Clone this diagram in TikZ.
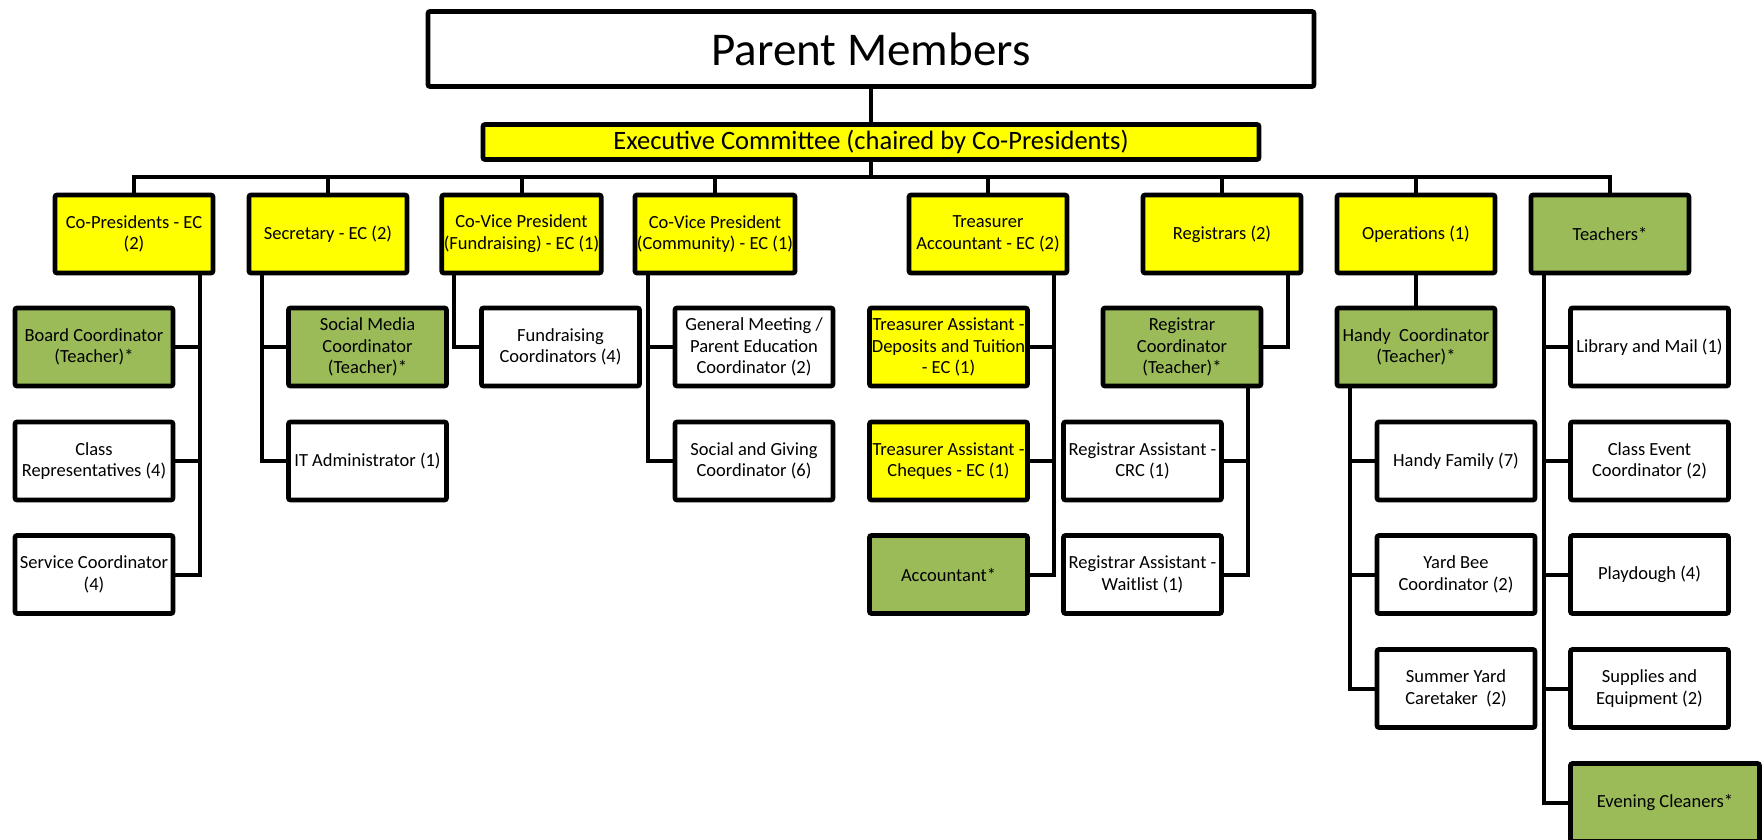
\documentclass[tikz,border=0pt]{standalone}
\usepackage{fontspec}
\setmainfont{Carlito}
\definecolor{OCyellow}{HTML}{FFFF00}
\definecolor{OCgreen}{HTML}{9BBB59}
\tikzset{OCbox/.style={draw,line width=2.35pt,rounded corners=1pt,align=center,inner sep=1pt,
           minimum width=79pt,minimum height=39pt,font=\fontsize{9.25}{10.85}\selectfont},
         OCyel/.style={OCbox,fill=OCyellow},
         OCgrn/.style={OCbox,fill=OCgreen},
         OCwht/.style={OCbox,fill=white},
         OClink/.style={line width=2pt}}

\begin{document}
\begin{tikzpicture}[x=0.5pt,y=-0.5pt]
  \useasboundingbox (0,0) rectangle (1763,840);
  \node[OCwht,minimum width=443pt,minimum height=37.5pt,font=\fontsize{23.5}{28}\selectfont] (pm) at (871,49) {Parent Members};
  \node[OCyel,minimum width=388pt,minimum height=17.5pt,font=\fontsize{13.25}{16}\selectfont] (ec) at (871,142) {Executive Committee (chaired by Co-Presidents)};
  \coordinate (bus) at (871,177);
  % first level
  \foreach \x/\n/\l in {134/cp/{Co-Presidents - EC\\(2)},328/se/{Secretary - EC (2)},
      521.5/fv/{Co-Vice President\\(Fundraising) - EC (1)},715/cv/{Co-Vice President\\(Community) - EC (1)},
      988/tr/{Treasurer\\Accountant - EC (2)},1222/rg/{Registrars (2)},1416/op/{Operations (1)}}
    \node[OCyel] (\n) at (\x,234) {\l};
  \node[OCgrn] (te) at (1610,234) {Teachers*};
  % yellow and green below
  \foreach \x/\y/\n/\l in {948.5/347/td/{Treasurer Assistant -\\Deposits and Tuition\\- EC (1)},
      948.5/461/tq/{Treasurer Assistant -\\Cheques - EC (1)}}
    \node[OCyel] (\n) at (\x,\y) {\l};
  \foreach \x/\y/\n/\l in {94/347/bc/{Board Coordinator\\(Teacher)*},367.5/347/sm/{Social Media\\Coordinator\\(Teacher)*},
      948.5/574.5/ac/{Accountant*},1182/347/rc/{Registrar\\Coordinator\\(Teacher)*},
      1416/347/hc/{Handy\ \ Coordinator\\(Teacher)*}}
    \node[OCgrn] (\n) at (\x,\y) {\l};
  \node[OCgrn,minimum width=94.5pt] (ev) at (1665,802.5) {Evening Cleaners*};
  % white boxes
  \foreach \x/\y/\n/\l in {94/461/cr/{Class\\Representatives (4)},94/574.5/sc/{Service Coordinator\\(4)},
      367.5/461/it/{IT Administrator (1)},560.5/347/fc/{Fundraising\\Coordinators (4)},
      754/347/gm/{General Meeting /\\Parent Education\\Coordinator (2)},754/461/sg/{Social and Giving\\Coordinator (6)},
      1142.5/461/ra/{Registrar Assistant -\\CRC (1)},1142.5/574.5/rw/{Registrar Assistant -\\Waitlist (1)},
      1456/461/hf/{Handy Family (7)},1456/574.5/yb/{Yard Bee\\Coordinator (2)},1456/688.5/sy/{Summer Yard\\Caretaker\ \ (2)},
      1649.5/347/lm/{Library and Mail (1)},1649.5/461/ce/{Class Event\\Coordinator (2)},
      1649.5/574.5/pd/{Playdough (4)},1649.5/688.5/su/{Supplies and\\Equipment (2)}}
    \node[OCwht] (\n) at (\x,\y) {\l};
  % connectors
  \draw[OClink] (pm) -- (ec);
  \draw[OClink] (ec) -- (bus);
  \foreach \n in {cp,se,fv,cv,tr,rg,op,te} \draw[OClink] (\n.north) |- (bus);
  \foreach \n in {bc,cr,sc} \draw[OClink] ([xshift=-7.5pt]cp.south east) |- (\n.east);
  \foreach \n in {sm,it} \draw[OClink] ([xshift=7.5pt]se.south west) |- (\n.west);
  \draw[OClink] ([xshift=7.5pt]fv.south west) |- (fc.west);
  \foreach \n in {gm,sg} \draw[OClink] ([xshift=7.5pt]cv.south west) |- (\n.west);
  \foreach \n in {td,tq,ac} \draw[OClink] ([xshift=-7.5pt]tr.south east) |- (\n.east);
  \draw[OClink] ([xshift=-7.5pt]rg.south east) |- (rc.east);
  \foreach \n in {ra,rw} \draw[OClink] ([xshift=-7.5pt]rc.south east) |- (\n.east);
  \draw[OClink] (op) -- (hc);
  \foreach \n in {hf,yb,sy} \draw[OClink] ([xshift=7.5pt]hc.south west) |- (\n.west);
  \foreach \n in {lm,ce,pd,su,ev} \draw[OClink] ([xshift=7.5pt]te.south west) |- (\n.west);
\end{tikzpicture}
\end{document}
